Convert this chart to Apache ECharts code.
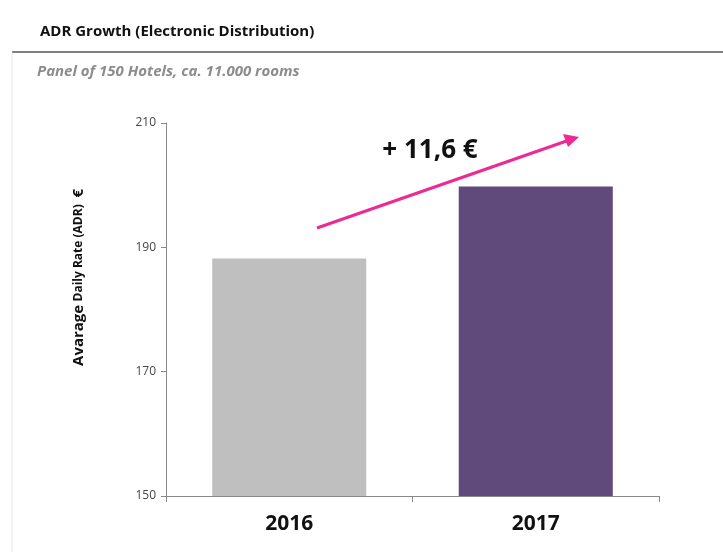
<!DOCTYPE html>
<html lang="en">
<head>
    <meta charset="UTF-8"/>
    <title>ADR Growth</title>
    <style>
        * { margin: 0; padding: 0; }
        body { background: #fff; width: 723px; height: 552px; overflow: hidden; }
        #chart { width: 723px; height: 552px; }
    </style>
    <script src="https://cdn.jsdelivr.net/npm/echarts@6/dist/echarts.min.js"></script>
</head>
<body>
<div id="chart"></div>
<script>
    const years = ["2016", "2017"];
    const adr = [188.2, 199.8];
    const barColors = ["#bfbfbf", "#604a7b"];
    const yTicks = [150, 170, 190, 210];
    const growthLabel = "+ 11,6 €";

    const myChart = echarts.init(document.getElementById("chart"));

    const options = {
        animation: false,
        grid: { left: 166, right: 64, top: 123, bottom: 56 },
        xAxis: {
            type: "category",
            data: years,
            axisLine: { lineStyle: { color: "#888", width: 1 } },
            axisTick: { show: true, length: 6, lineStyle: { color: "#888" } },
            axisLabel: {
                color: "#111",
                fontSize: 21,
                fontWeight: "bold",
                fontFamily: "Open Sans",
                margin: 18
            }
        },
        yAxis: {
            type: "value",
            min: yTicks[0],
            max: yTicks[yTicks.length - 1],
            interval: 20,
            splitLine: { show: false },
            axisLine: { show: true, lineStyle: { color: "#888" } },
            axisTick: { show: true, inside: false, length: 5, lineStyle: { color: "#888" } },
            axisLabel: { color: "#444", fontSize: 12, fontFamily: "Open Sans", margin: 10 },
            name: "{a|Avarage} {b|Daily Rate (ADR)}  {a|€}",
            nameLocation: "middle",
            nameRotate: 90,
            nameGap: 80,
            nameTextStyle: {
                padding: [0, 0, 0, 64],
                rich: {
                    a: { fontSize: 15, fontWeight: "bold", color: "#111", fontFamily: "Open Sans" },
                    b: { fontSize: 12, fontWeight: "bold", color: "#111", fontFamily: "Open Sans" }
                }
            }
        },
        series: [{
            type: "bar",
            barWidth: "62.5%",
            data: adr.map((v, i) => ({ value: v, itemStyle: { color: barColors[i] } }))
        }],
        graphic: [
            {
                type: "text", left: 40, top: 24,
                style: { text: "ADR Growth (Electronic Distribution)", font: "bold 15px 'Open Sans'", fill: "#111" }
            },
            {
                type: "line", shape: { x1: 12, y1: 52, x2: 723, y2: 52 },
                style: { stroke: "#555", lineWidth: 1.5 }
            },
            {
                type: "text", left: 37, top: 64,
                style: { text: "Panel of 150 Hotels, ca. 11.000 rooms", font: "italic bold 15px 'Open Sans'", fill: "#8c8c8c" }
            },
            {
                type: "line", shape: { x1: 12, y1: 52, x2: 12, y2: 552 },
                style: { stroke: "#e6e6e6", lineWidth: 1 }
            },
            {
                type: "line", shape: { x1: 317, y1: 228, x2: 568, y2: 140.5 },
                style: { stroke: "#ec2a93", lineWidth: 3 }
            },
            {
                type: "polygon", shape: { points: [[579, 137], [563, 134], [568, 147]] },
                style: { fill: "#ec2a93" }
            },
            {
                type: "text", x: 430, y: 151,
                style: { text: growthLabel, font: "bold 26px 'Open Sans'", fill: "#111", align: "center", verticalAlign: "middle" }
            }
        ]
    };
    myChart.setOption(options);
</script>
</body>
</html>
